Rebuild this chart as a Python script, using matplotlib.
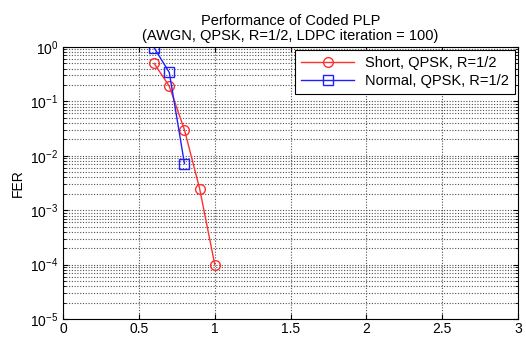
import numpy as np
import matplotlib
matplotlib.use('Agg')
import matplotlib.pyplot as plt
from matplotlib.ticker import LogLocator, NullFormatter

plt.rcParams['font.family'] = ['Liberation Sans', 'DejaVu Sans']

short_x = [0.6, 0.7, 0.8, 0.9, 1.0]
short_fer = [0.5, 0.19, 0.03, 0.0025, 0.0001]
normal_x = [0.6, 0.7, 0.8]
normal_fer = [0.97, 0.34, 0.0072]

fig = plt.figure(figsize=(5.26, 3.38), dpi=100)
ax = fig.add_axes([0.12, 0.056, 0.865, 0.805])

ax.semilogy(short_x, short_fer, '-o', color='#ff3030', linewidth=1, markersize=7,
            markerfacecolor='none', markeredgewidth=1, label='Short, QPSK, R=1/2')
ax.semilogy(normal_x, normal_fer, '-s', color='#2020ff', linewidth=1, markersize=7,
            markerfacecolor='none', markeredgewidth=1, label='Normal, QPSK, R=1/2')

ax.set_xlim(0, 3)
ax.set_ylim(1e-5, 1)
ax.set_xticks([0, 0.5, 1, 1.5, 2, 2.5, 3])
ax.set_xticklabels(['0', '0.5', '1', '1.5', '2', '2.5', '3'])
ax.yaxis.set_minor_locator(LogLocator(base=10, subs=np.arange(2, 10), numticks=20))
ax.yaxis.set_minor_formatter(NullFormatter())

ax.grid(True, which='major', linestyle=(0, (1, 1.5)), color='#505050', linewidth=0.8)
ax.grid(True, which='minor', axis='y', linestyle=(0, (1, 1.5)), color='#505050', linewidth=0.8)
ax.tick_params(which='both', direction='in', top=True, right=True, labelsize=10)
ax.tick_params(axis='x', pad=2)

ax.set_ylabel('FER', fontsize=10)
ax.set_title('Performance of Coded PLP\n(AWGN, QPSK, R=1/2, LDPC iteration = 100)',
             fontsize=10.5, pad=5, linespacing=1.1)

leg = ax.legend(loc='upper right', fontsize=10.5, fancybox=False, edgecolor='black',
                framealpha=1, borderaxespad=0.2, handlelength=3.6, labelspacing=0.3,
                borderpad=0.4)
leg.get_frame().set_linewidth(0.8)

fig.savefig('out.png', dpi=100)
